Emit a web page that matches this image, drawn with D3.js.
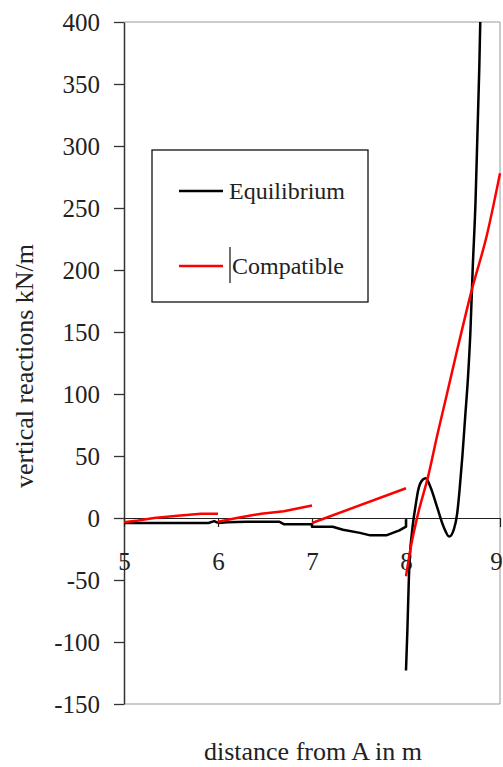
<!DOCTYPE html>
<html>
<head>
<meta charset="utf-8">
<script src="https://cdn.jsdelivr.net/npm/d3@7"></script>
<style>
  body { margin: 0; background: #fff; }
  svg text { font-family: "Liberation Serif", "DejaVu Serif", "Times New Roman", serif; fill: #222; }
</style>
</head>
<body>
<svg id="chart" width="503" height="767"></svg>
<script>
// Equilibrium reactions, one array per span [x in m, kN/m]
const eqSpan1 = [[5, -4], [5.5, -4], [5.9, -4], [5.96, -2.5], [6.0, -4]];
const eqSpan2 = [[6.0, -4], [6.1, -3.5], [6.3, -3], [6.65, -3], [6.7, -5], [7.0, -5]];
const eqSpan3 = [[7.0, -4], [7.0, -7], [7.22, -7], [7.33, -9.5], [7.51, -12], [7.62, -14],
                 [7.79, -14], [7.93, -10], [8.0, -7], [8.0, -1]];
const eqSpan4 = [[8.0, -123], [8.015, -90], [8.03, -50], [8.045, -26], [8.06, -14], [8.08, -1],
                 [8.10, 9], [8.13, 22.6], [8.18, 31], [8.21, 32], [8.26, 25], [8.33, 9],
                 [8.40, -7], [8.46, -15], [8.51, -9], [8.545, 4], [8.57, 22.6], [8.60, 50],
                 [8.63, 82], [8.66, 114], [8.685, 150], [8.71, 202], [8.74, 256], [8.76, 310],
                 [8.78, 364], [8.79, 400]];

// Compatible reactions, one array per span
const compSpan1 = [[5.0, -3.5], [5.15, -2], [5.32, 0], [5.57, 1.8], [5.82, 3.5], [6.0, 3.5]];
const compSpan2 = [[6.0, -3], [6.2, 0], [6.46, 3.5], [6.7, 5.5], [7.0, 10]];
const compSpan3 = [[7.0, -4], [8.0, 24]];
const compSpan4 = [[8.0, -47], [8.06, -20], [8.13, 4], [8.24, 35], [8.33, 66], [8.42, 95],
                   [8.54, 134], [8.70, 184], [8.86, 228], [9.0, 278]];

const xTicks = [5, 6, 7, 8, 9];
const yTicks = [-150, -100, -50, 0, 50, 100, 150, 200, 250, 300, 350, 400];

const series = [
    { name: 'Equilibrium', color: '#000', spans: [eqSpan1, eqSpan2, eqSpan3, eqSpan4] },
    { name: 'Compatible', color: '#f00', spans: [compSpan1, compSpan2, compSpan3, compSpan4] }
];

const svg = d3.select('#chart');
const plot = { left: 124, right: 500, top: 22, bottom: 704 };
const serif = '"Liberation Serif", "DejaVu Serif", serif';

const x = d3.scaleLinear().domain([5, 9]).range([plot.left, plot.right]);
const y = d3.scaleLinear().domain([-150, 400]).range([plot.bottom, plot.top]);

// plain hyphen minus like the original
const fmt = d => String(d);

// Frame (top, right, bottom)
svg.append('path')
    .attr('d', `M${plot.left},${plot.top}H${plot.right}V${plot.bottom}H${plot.left}`)
    .attr('fill', 'none')
    .attr('stroke', '#999')
    .attr('stroke-width', 1);

// Y axis
const yAxis = svg.append('g')
    .attr('transform', `translate(${plot.left},0)`)
    .call(d3.axisLeft(y).tickValues(yTicks).tickFormat(fmt)
        .tickSize(10).tickSizeOuter(0).tickPadding(14))
    .attr('font-family', serif)
    .attr('font-size', 25);
yAxis.select('.domain').attr('stroke', '#333').attr('stroke-width', 1.5);
yAxis.selectAll('.tick line').attr('stroke', '#333').attr('stroke-width', 1.3);
yAxis.selectAll('text').attr('fill', '#222');

// X axis along zero
const xAxis = svg.append('g')
    .attr('transform', `translate(0,${y(0)})`)
    .call(d3.axisBottom(x).tickValues(xTicks).tickFormat(fmt)
        .tickSize(9).tickSizeOuter(0).tickPadding(25))
    .attr('font-family', serif)
    .attr('font-size', 25);
xAxis.select('.domain').attr('stroke', '#222').attr('stroke-width', 1.2);
xAxis.selectAll('.tick line').attr('stroke', '#222').attr('stroke-width', 1.2);
xAxis.selectAll('text').attr('fill', '#222');
// last label sits against the right edge
xAxis.selectAll('.tick text').filter(d => d === 9).attr('dx', -4);

// Curves
const line = d3.line().x(d => x(d[0])).y(d => y(d[1]));
const smooth = d3.line().x(d => x(d[0])).y(d => y(d[1])).curve(d3.curveMonotoneX);

series.forEach(s => {
    s.spans.forEach((span, i) => {
        svg.append('path')
            .datum(span)
            .attr('d', i === 3 ? smooth : line)
            .attr('fill', 'none')
            .attr('stroke', s.color)
            .attr('stroke-width', 2.5)
            .attr('stroke-linejoin', 'round');
    });
});

// Axis titles
svg.append('text')
    .attr('x', 313)
    .attr('y', 760)
    .attr('text-anchor', 'middle')
    .style('font-size', '26px')
    .text('distance from A in m');

svg.append('text')
    .attr('transform', 'translate(33,366) rotate(-90)')
    .attr('text-anchor', 'middle')
    .style('font-size', '26px')
    .text('vertical reactions kN/m');

// Legend
const legend = svg.append('g');
legend.append('rect')
    .attr('x', 152).attr('y', 150)
    .attr('width', 216).attr('height', 152)
    .attr('fill', '#fff')
    .attr('stroke', '#111')
    .attr('stroke-width', 1.3);

const legendRows = [
    { s: series[0], y: 191, tx: 229 },
    { s: series[1], y: 266, tx: 232 }
];
legendRows.forEach(r => {
    legend.append('line')
        .attr('x1', 179).attr('x2', 223)
        .attr('y1', r.y).attr('y2', r.y)
        .attr('stroke', r.s.color)
        .attr('stroke-width', 2.5);
    legend.append('text')
        .attr('x', r.tx)
        .attr('y', r.y + 8)
        .style('font-size', '24px')
        .text(r.s.name);
});

// stray text cursor next to "Compatible"
legend.append('line')
    .attr('x1', 230).attr('x2', 230)
    .attr('y1', 247).attr('y2', 283)
    .attr('stroke', '#222')
    .attr('stroke-width', 1.3);
</script>
</body>
</html>
